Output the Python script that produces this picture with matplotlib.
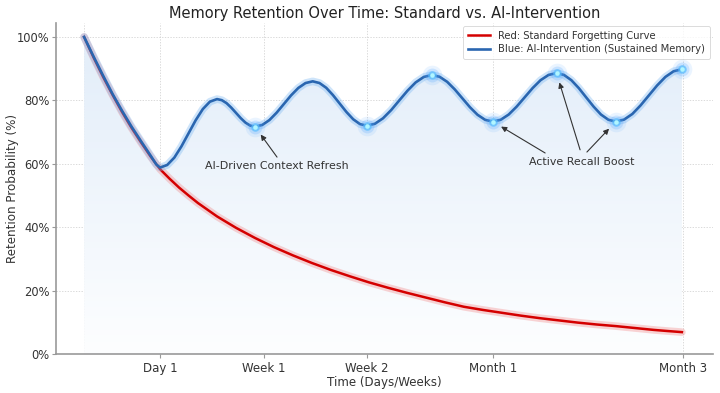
import numpy as np
import matplotlib
matplotlib.use("Agg")
import matplotlib.pyplot as plt
from matplotlib.colors import LinearSegmentedColormap

plt.rcParams['font.family'] = ['DejaVu Sans']

# ---------------- data ----------------
title = "Memory Retention Over Time: Standard vs. AI-Intervention"
xlabel = "Time (Days/Weeks)"
ylabel = "Retention Probability (%)"
tick_pos = [1.0, 2.37, 3.72, 5.39, 7.88]
tick_labels = ["Day 1", "Week 1", "Week 2", "Month 1", "Month 3"]
yticks = [0, 20, 40, 60, 80, 100]

red_t = [0, 0.125, 0.25, 0.375, 0.5, 0.625, 0.75, 0.875, 1.0, 1.125, 1.25,
         1.375, 1.5, 1.625, 1.75, 1.875, 2.0, 2.25, 2.5, 2.75, 3.0, 3.25, 3.5,
         3.75, 4.0, 4.25, 4.5, 4.75, 5.0, 5.25, 5.5, 5.75, 6.0, 6.25, 6.5,
         6.75, 7.0, 7.25, 7.5, 7.68, 7.87]
red_r = [100, 93.5, 87.4, 81.7, 76.3, 71.3, 66.7, 62.3, 58.3, 55.3, 52.5,
         50.0, 47.6, 45.5, 43.4, 41.6, 39.8, 36.6, 33.7, 31.1, 28.7, 26.5, 24.5,
         22.6, 20.9, 19.3, 17.8, 16.3, 14.9, 13.9, 13.0, 12.1, 11.3, 10.6, 9.9,
         9.3, 8.8, 8.2, 7.6, 7.25, 6.9]

blue_t = [0, 0.125, 0.25, 0.375, 0.5, 0.625, 0.75, 0.875, 0.95, 1.0,
          1.094, 1.188, 1.281, 1.375, 1.469, 1.563, 1.656, 1.75,
          1.8125, 1.875, 1.9375, 2.0, 2.0625, 2.125, 2.1875, 2.25,
          2.345, 2.44, 2.535, 2.63, 2.725, 2.82, 2.915, 3.01,
          3.099, 3.188, 3.276, 3.365, 3.454, 3.543, 3.631, 3.72,
          3.828, 3.935, 4.043, 4.15, 4.258, 4.365, 4.473, 4.58,
          4.68, 4.78, 4.88, 4.98, 5.08, 5.18, 5.28, 5.38,
          5.485, 5.59, 5.695, 5.8, 5.905, 6.01, 6.115, 6.22,
          6.318, 6.415, 6.513, 6.61, 6.708, 6.805, 6.903, 7.0,
          7.109, 7.218, 7.326, 7.435, 7.544, 7.653, 7.761, 7.87]
blue_r = [100, 93.8, 87.8, 82.0, 76.7, 71.7, 67.1, 62.6, 59.8, 58.8,
          59.62, 61.95, 65.47, 69.6, 73.73, 77.25, 79.58, 80.4,
          80.07, 79.13, 77.71, 76.05, 74.39, 72.97, 72.03, 71.7,
          72.24, 73.79, 76.12, 78.85, 81.58, 83.91, 85.46, 86.0,
          85.47, 83.96, 81.67, 79.0, 76.33, 74.04, 72.53, 72.0,
          72.61, 74.34, 76.94, 80.0, 83.06, 85.66, 87.39, 88.0,
          87.44, 85.85, 83.46, 80.65, 77.84, 75.45, 73.86, 73.3,
          73.88, 75.53, 78.03, 80.95, 83.87, 86.37, 88.02, 88.6,
          88.02, 86.37, 83.87, 80.95, 78.03, 75.53, 73.88, 73.3,
          73.93, 75.71, 78.40, 81.55, 84.7, 87.39, 89.17, 89.8]

boost_t = [2.25, 3.72, 4.58, 5.38, 6.22, 7.0, 7.87]

red_label = "Red: Standard Forgetting Curve"
blue_label = "Blue: AI-Intervention (Sustained Memory)"
ann1_text = "AI-Driven Context Refresh"
ann2_text = "Active Recall Boost"

# ---------------- figure ----------------
fig = plt.figure(figsize=(7.2, 3.93), dpi=100)
ax = fig.add_axes([56/720, 1-354/393, (713-56)/720, (354-23)/393])
ax.set_xlim(-0.37, 8.28)
ax.set_ylim(0, 104.4)

bt = np.array(blue_t)
br = np.array(blue_r)

# gradient fill under blue curve
cmap = LinearSegmentedColormap.from_list("g", ["#fdfeff", "#e2edf9"])
grad = np.linspace(0, 1, 256).reshape(-1, 1)
im = ax.imshow(grad, extent=[bt[0], bt[-1], 0, 100], origin="lower",
               cmap=cmap, aspect="auto", zorder=1)
poly = ax.fill_between(bt, 0, br, color="none", lw=0)
im.set_clip_path(poly.get_paths()[0], transform=ax.transData)

# red curve with glow
ax.plot(red_t, red_r, color="#f27a7a", lw=5.5, alpha=0.32, solid_capstyle="round",
        solid_joinstyle="round", zorder=3)
ax.plot(red_t, red_r, color="#d40000", lw=1.8, zorder=4, label=red_label,
        solid_joinstyle="round")

# blue curve with glow
ax.plot(bt, br, color="#74b4f2", lw=5.5, alpha=0.35, solid_capstyle="round",
        solid_joinstyle="round", zorder=5)
ax.plot(bt, br, color="#2a66b0", lw=1.9, zorder=6, label=blue_label,
        solid_joinstyle="round")

# glowing points
idx = [int(np.argmin(np.abs(bt - t))) for t in boost_t]
px, py = bt[idx], br[idx]
ax.scatter(px, py, s=200, color="#5aa9ff", alpha=0.12, lw=0, zorder=7)
ax.scatter(px, py, s=100, color="#4ea3ff", alpha=0.22, lw=0, zorder=7)
ax.scatter(px, py, s=38, color="#5cc0ff", alpha=0.7, lw=0, zorder=8)
ax.scatter(px, py, s=11, color="#b0f6ff", alpha=1.0, lw=0, zorder=9)

# annotations
arrow_kw = dict(arrowstyle="-|>", color="#333333", lw=0.8, mutation_scale=8,
                shrinkA=0, shrinkB=7)
ax.annotate("", xy=(px[0], py[0]), xytext=(2.54, 62.1), arrowprops=arrow_kw, zorder=10)
ax.text(2.54, 59.3, ann1_text, ha="center", va="center", fontsize=7.9, color="#333333", zorder=10)
ax.annotate("", xy=(px[3], py[3]), xytext=(6.07, 63.4), arrowprops=arrow_kw, zorder=10)
ax.annotate("", xy=(px[4], py[4]), xytext=(6.53, 64.4), arrowprops=arrow_kw, zorder=10)
ax.annotate("", xy=(px[5], py[5]), xytext=(6.62, 63.7), arrowprops=arrow_kw, zorder=10)
ax.text(6.55, 60.6, ann2_text, ha="center", va="center", fontsize=7.9, color="#333333", zorder=10)

# axes styling
ax.set_xticks(tick_pos)
ax.set_xticklabels(tick_labels)
ax.set_xticks([0], minor=True)
ax.set_yticks(yticks)
ax.set_yticklabels([f"{v}%" for v in yticks])
ax.tick_params(axis="both", labelsize=8.3, colors="#333333", length=3, width=0.8,
               color="#999999", pad=1.5)
ax.tick_params(axis="x", labelsize=8.5, pad=2.5)
ax.tick_params(axis="x", which="minor", length=0)
ax.grid(True, which="both", ls=(0, (2, 2)), lw=0.5, color="#cccccc", zorder=0)
ax.set_axisbelow(True)
for s in ["top", "right"]:
    ax.spines[s].set_visible(False)
for s in ["left", "bottom"]:
    ax.spines[s].set_color("#999999")
    ax.spines[s].set_linewidth(1.2)

ax.set_title(title, fontsize=10.5, color="#222222", pad=3.5)
ax.set_xlabel(xlabel, fontsize=8.6, color="#333333", labelpad=1)
ax.set_ylabel(ylabel, fontsize=8.6, color="#333333")
ax.yaxis.set_label_coords((19 - 56) / 657, 0.5)

leg = ax.legend(loc="upper right", bbox_to_anchor=(1.0, 1.0), fontsize=7.2,
                frameon=True, borderaxespad=0.3, handlelength=2.2,
                labelspacing=0.35, borderpad=0.5, fancybox=True)
leg.get_frame().set_edgecolor("#cccccc")
leg.get_frame().set_linewidth(0.6)
for t in leg.get_texts():
    t.set_color("#333333")

fig.savefig("out.png", dpi=100, facecolor="white")
